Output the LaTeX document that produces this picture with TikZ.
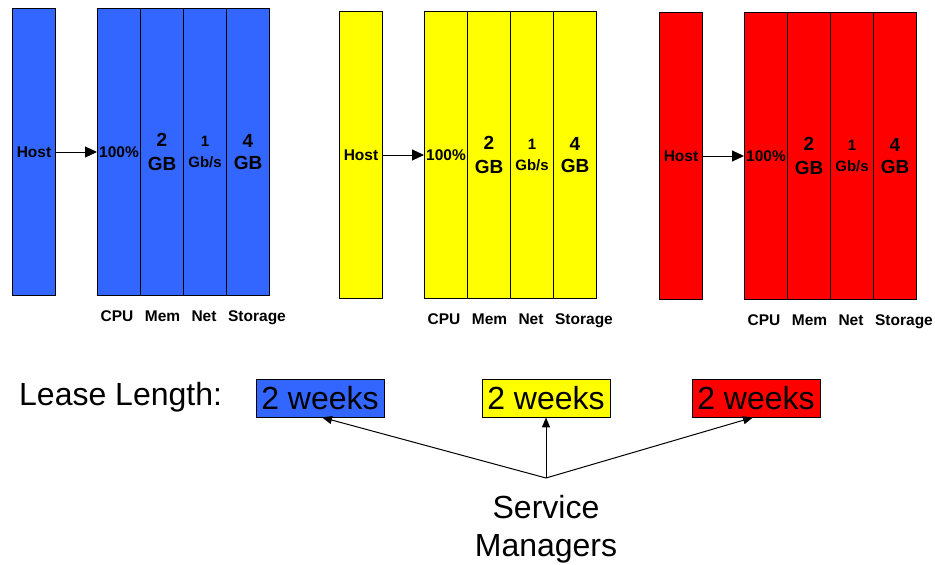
\documentclass[tikz,border=0pt]{standalone}
\usepackage{fontspec}
\setmainfont{Liberation Sans}
\usetikzlibrary{arrows.meta}
\definecolor{hostblue}{HTML}{3366FF}
\definecolor{hostyellow}{HTML}{FFFF00}
\definecolor{hostred}{HTML}{FF0000}
\newcommand{\pxfont}[2]{\fontsize{#1}{#2}\selectfont}
\begin{document}
\begin{tikzpicture}[x=1pt,y=-1pt,
  bar/.style={draw=black, line width=1pt, minimum width=43pt, minimum height=287pt,
    inner sep=0pt, anchor=north west, align=center, font=\bfseries\pxfont{15.5}{18}},
  reslabel/.style={anchor=base, inner sep=0pt, font=\bfseries\pxfont{15.5}{18}},
  hostarrow/.style={line width=1pt, -{Triangle[length=12pt,width=11pt]}},
  leasebox/.style={draw=black, line width=0.8pt, minimum width=128pt, minimum height=38pt,
    inner sep=0pt, text height=23pt, text depth=0pt, font=\pxfont{32}{38}},
  leasearrow/.style={line width=1pt, -{Triangle[length=10pt,width=8pt]}},
  bigtext/.style={inner sep=0pt, font=\pxfont{32}{38}}]
\useasboundingbox (0,0) rectangle (935,565);

% one host with its resource columns per colour
\foreach \g/\x/\y/\c in {B/12/8/hostblue, Y/339/11/hostyellow, R/659/12/hostred}{
  \node[bar, fill=\c] (host\g) at (\x,\y) {Host};
  \node[bar, fill=\c] (cpu\g) at (\x+85,\y) {100\%};
  \node[bar, fill=\c, font=\bfseries\pxfont{19}{24}] (mem\g) at (\x+128,\y) {2\\GB};
  \node[bar, fill=\c, font=\bfseries\pxfont{15}{21}] (net\g) at (\x+171,\y) {1\\Gb/s};
  \node[bar, fill=\c, font=\bfseries\pxfont{19}{22}] (sto\g) at (\x+214,\y) {4\\GB};
  \draw[hostarrow] (host\g) -- (cpu\g);
  \node[reslabel] (lcpu\g) at ([xshift=-2pt, yshift=-25pt]cpu\g.south) {CPU};
  \node[reslabel] (lmem\g) at ([xshift=0.5pt, yshift=-25pt]mem\g.south) {Mem};
  \node[reslabel] (lnet\g) at ([xshift=-1pt, yshift=-25pt]net\g.south) {Net};
  \node[reslabel] (lsto\g) at ([xshift=9pt, yshift=-25pt]sto\g.south) {Storage};
}

% lease lengths
\node[bigtext, anchor=base west] (lease) at (19,405.7) {Lease Length:};
\node[leasebox, fill=hostblue] (leaseB) at (320,398) {2 weeks};
\node[leasebox, fill=hostyellow] (leaseY) at (546,398) {2 weeks};
\node[leasebox, fill=hostred] (leaseR) at (756,398) {2 weeks};

% service managers set the leases
\node[bigtext, anchor=north, align=center] (sm) at (546,495) {Service\\Managers};
\coordinate (apex) at ([yshift=17pt]sm.north);
\draw[leasearrow] (apex) -- ([xshift=2pt]leaseB.south);
\draw[leasearrow] (apex) -- (leaseY.south);
\draw[leasearrow] (apex) -- ([xshift=-3pt]leaseR.south);
\end{tikzpicture}
\end{document}
